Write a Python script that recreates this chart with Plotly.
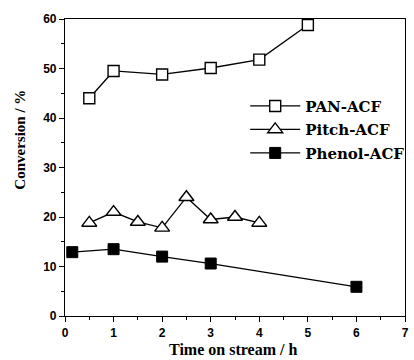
import plotly.graph_objects as go

pan_x = [0.5, 1, 2, 3, 4, 5]
pan_y = [44, 49.5, 48.8, 50.1, 51.8, 58.8]
pitch_x = [0.5, 1, 1.5, 2, 2.5, 3, 3.5, 4]
pitch_y = [18.8, 21, 19, 17.8, 24, 19.5, 20, 18.8]
phenol_x = [0.15, 1, 2, 3, 6]
phenol_y = [12.9, 13.5, 12, 10.6, 5.9]

fig = go.Figure()
fig.add_trace(go.Scatter(x=pan_x, y=pan_y, name="PAN-ACF", mode="lines+markers",
    line=dict(color="black", width=1.3),
    marker=dict(symbol="square", size=11, color="white", line=dict(color="black", width=1.4)),
    legendgroup="a"))
fig.add_trace(go.Scatter(x=pitch_x, y=pitch_y, name="Pitch-ACF", mode="lines+markers",
    line=dict(color="black", width=1.3),
    marker=dict(symbol="triangle-up", size=13, color="white", line=dict(color="black", width=1.4)),
    legendgroup="b"))
fig.add_trace(go.Scatter(x=phenol_x, y=phenol_y, name="Phenol-ACF", mode="lines+markers",
    line=dict(color="black", width=1.3),
    marker=dict(symbol="square", size=11, color="black", line=dict(color="black", width=1)),
    legendgroup="c"))

tickfont = dict(family="Liberation Sans", size=12, color="black", weight="bold")
titlefont = dict(family="Liberation Serif", size=16, color="black", weight="bold")

fig.update_layout(
    width=414, height=360,
    margin=dict(l=65, r=4, t=19, b=44),
    paper_bgcolor="white", plot_bgcolor="white",
    showlegend=True,
    legend=dict(x=0.53, y=0.762, xanchor="left", yanchor="top", itemwidth=50,
                font=dict(family="DejaVu Serif", size=15, color="black", weight="bold"),
                bgcolor="rgba(0,0,0,0)", tracegroupgap=1),
    xaxis=dict(range=[0, 7], dtick=1, tick0=0, showgrid=False, zeroline=False,
               showline=True, linecolor="black", linewidth=1.2, mirror=True,
               ticks="outside", ticklen=5, tickcolor="black", tickfont=tickfont,
               minor=dict(dtick=0.5, ticks="outside", ticklen=3, tickcolor="black")),
    yaxis=dict(range=[0, 60], dtick=10, tick0=0, showgrid=False, zeroline=False,
               showline=True, linecolor="black", linewidth=1.2, mirror=True,
               ticks="outside", ticklen=5, tickcolor="black", tickfont=tickfont,
               minor=dict(dtick=5, ticks="outside", ticklen=3, tickcolor="black")),
    annotations=[
        dict(text="Time on stream / h", xref="paper", yref="paper", x=0.493, y=-0.113,
             xanchor="center", yanchor="middle", showarrow=False, font=titlefont),
        dict(text="Conversion / %", xref="paper", yref="paper", x=-0.133, y=0.593,
             xanchor="center", yanchor="middle", showarrow=False, textangle=-90,
             font=dict(family="Liberation Serif", size=15, color="black", weight="bold")),
    ],
)

fig.write_html("out.html")
